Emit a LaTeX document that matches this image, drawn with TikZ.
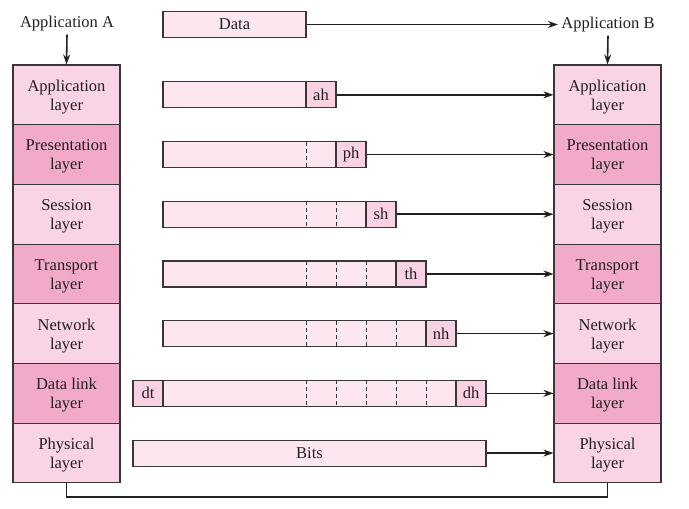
\documentclass[tikz,border=0pt]{standalone}
\usepackage{fontspec}
\setmainfont{Liberation Serif}
\usetikzlibrary{arrows.meta}
\definecolor{lightL}{HTML}{F9D4E5}
\definecolor{darkL}{HTML}{F2AACB}
\definecolor{bodyC}{HTML}{FCE7F1}
\definecolor{hdrC}{HTML}{F8D2E3}
\definecolor{edge}{HTML}{3A3537}
\definecolor{txt}{HTML}{231F20}
\begin{document}
\begin{tikzpicture}[x=1pt,y=-1pt,
  every node/.style={text=txt, font=\fontsize{16.5}{19}\selectfont},
  lay/.style={draw=edge, line width=1.1pt, minimum width=107pt, minimum height=59.7pt, inner sep=0pt,
    label={[align=center, yshift=-2pt, text=txt, font=\fontsize{16.5}{19}\selectfont]center:#1}},
  bodybox/.style={draw=edge, fill=bodyC, line width=1.1pt, minimum height=26pt, inner sep=0pt},
  hdr/.style={draw=edge, fill=hdrC, line width=1.1pt, minimum height=26pt, minimum width=30pt, inner sep=0pt},
  dsh/.style={draw=edge, line width=0.8pt, dash pattern=on 4pt off 3pt},
  arr/.style={draw=txt, line width=1.6pt, -{Stealth[length=10pt,width=7pt]}},
  link/.style={draw=txt, line width=1.6pt}]
\useasboundingbox (0,0) rectangle (689,509);
% left stack
\node[lay={Application\\layer}, fill=lightL] (L1) at (66.5,94.85) {};
\node[lay={Presentation\\layer}, fill=darkL]  (L2) at (66.5,154.55) {};
\node[lay={Session\\layer}, fill=lightL] (L3) at (66.5,214.25) {};
\node[lay={Transport\\layer}, fill=darkL]  (L4) at (66.5,273.95) {};
\node[lay={Network\\layer}, fill=lightL] (L5) at (66.5,333.65) {};
\node[lay={Data link\\layer}, fill=darkL]  (L6) at (66.5,393.35) {};
\node[lay={Physical\\layer}, fill=lightL] (L7) at (66.5,453.05) {};
% right stack
\node[lay={Application\\layer}, fill=lightL] (R1) at (607.5,94.85) {};
\node[lay={Presentation\\layer}, fill=darkL]  (R2) at (607.5,154.55) {};
\node[lay={Session\\layer}, fill=lightL] (R3) at (607.5,214.25) {};
\node[lay={Transport\\layer}, fill=darkL]  (R4) at (607.5,273.95) {};
\node[lay={Network\\layer}, fill=lightL] (R5) at (607.5,333.65) {};
\node[lay={Data link\\layer}, fill=darkL]  (R6) at (607.5,393.35) {};
\node[lay={Physical\\layer}, fill=lightL] (R7) at (607.5,453.05) {};
% top labels
\node (appA) at (67,23.5) {Application A};
\node (appB) at (608,24.5) {Application B};
\draw[arr] (appA.south) -- (L1.north);
\draw[arr] (appB.south) -- (R1.north);
\node[bodybox, minimum width=143pt] (data) at (234.5,24.5) {Data};
\draw[arr] (data.east) -- (appB.west);
% row 1
\node[bodybox, minimum width=143pt] (b1) at (234.5,94.85) {};
\node[hdr] (h1) at (321,94.85) {ah};
\draw[arr] (h1.east) -- (h1.east -| R1.west);
% row 2
\node[bodybox, minimum width=173pt] (b2) at (249.5,154.55) {};
\node[hdr] (h2) at (351,154.55) {ph};
\draw[dsh] (306,141.55) -- (306,167.55);
\draw[arr] (h2.east) -- (h2.east -| R2.west);
% row 3
\node[bodybox, minimum width=203pt] (b3) at (264.5,214.25) {};
\node[hdr] (h3) at (381,214.25) {sh};
\foreach \x in {306,336} \draw[dsh] (\x,201.25) -- (\x,227.25);
\draw[arr] (h3.east) -- (h3.east -| R3.west);
% row 4
\node[bodybox, minimum width=233pt] (b4) at (279.5,273.95) {};
\node[hdr] (h4) at (411,273.95) {th};
\foreach \x in {306,336,366} \draw[dsh] (\x,260.95) -- (\x,286.95);
\draw[arr] (h4.east) -- (h4.east -| R4.west);
% row 5
\node[bodybox, minimum width=263pt] (b5) at (294.5,333.65) {};
\node[hdr] (h5) at (441,333.65) {nh};
\foreach \x in {306,336,366,396} \draw[dsh] (\x,320.65) -- (\x,346.65);
\draw[arr] (h5.east) -- (h5.east -| R5.west);
% row 6
\node[bodybox, minimum width=293pt] (b6) at (309.5,393.35) {};
\node[hdr] (t6) at (148,393.35) {dt};
\node[hdr] (h6) at (471,393.35) {dh};
\foreach \x in {306,336,366,396,426} \draw[dsh] (\x,380.35) -- (\x,406.35);
\draw[arr] (h6.east) -- (h6.east -| R6.west);
% row 7
\node[bodybox, minimum width=353pt] (b7) at (309.5,453.05) {Bits};
\draw[arr] (b7.east) -- (b7.east -| R7.west);
% physical link
\draw[link] (L7.south) -- ++(0,13.5) -| (R7.south);
\end{tikzpicture}
\end{document}
